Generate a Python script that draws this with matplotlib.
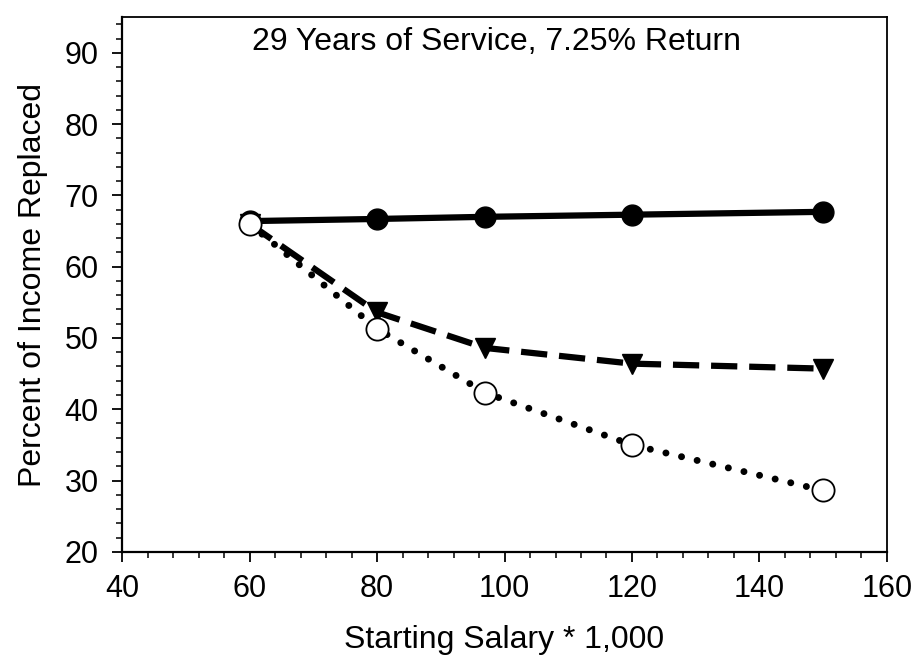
import matplotlib.pyplot as plt
from matplotlib.ticker import MultipleLocator

plt.rcParams['font.family'] = ['Liberation Sans', 'DejaVu Sans']

# data
salary = [60, 80, 97, 120, 150]
solid_vals = [66.4, 66.7, 67.0, 67.3, 67.7]
dashed_vals = [66.0, 53.6, 48.6, 46.4, 45.7]
dotted_vals = [66.0, 51.3, 42.3, 35.0, 28.6]

title = "29 Years of Service, 7.25% Return"
xlabel = "Starting Salary * 1,000"
ylabel = "Percent of Income Replaced"

fig = plt.figure(figsize=(9.19, 6.64), dpi=100)
ax = fig.add_axes([0.133, 0.169, 0.832, 0.805])

ax.plot(salary, solid_vals, color='black', lw=4.5, ls='-',
        marker='o', ms=15, mfc='black', mec='black', zorder=3)
ax.plot(salary, dashed_vals, color='black', lw=4.5, ls=(0, (4.2, 1.9)),
        marker='v', ms=15, mfc='black', mec='black', zorder=3)
ax.plot(salary, dotted_vals, color='black', lw=5, ls=(0, (0.01, 2.3)),
        dash_capstyle='round', marker='o', ms=16, mfc='white',
        mec='black', mew=1.3, zorder=4)

ax.set_xlim(40, 160)
ax.set_ylim(20, 95)
ax.xaxis.set_major_locator(MultipleLocator(20))
ax.xaxis.set_minor_locator(MultipleLocator(4))
ax.yaxis.set_major_locator(MultipleLocator(10))
ax.yaxis.set_minor_locator(MultipleLocator(2))

ax.tick_params(which='major', direction='out', length=7, width=1.3, labelsize=22)
ax.tick_params(axis='x', which='major', pad=9)
ax.tick_params(axis='y', which='major', pad=10)
ax.tick_params(which='minor', direction='out', length=4, width=1.1)
ax.tick_params(top=False, right=False)

for side in ['left', 'bottom']:
    ax.spines[side].set_linewidth(1.6)
for side in ['top', 'right']:
    ax.spines[side].set_linewidth(1.3)

ax.set_xlabel(xlabel, fontsize=23, labelpad=15)
ax.set_ylabel(ylabel, fontsize=23, labelpad=12)

ax.text(0.49, 0.953, title, transform=ax.transAxes, ha='center', va='center',
        fontsize=23)

fig.savefig("out.png", dpi=100)
